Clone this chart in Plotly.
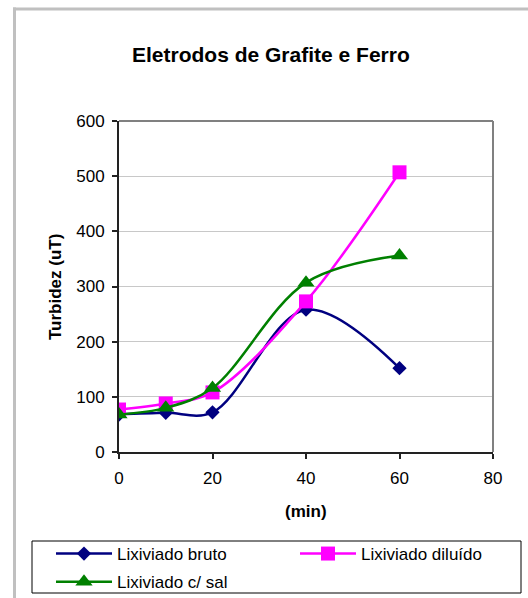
import plotly.graph_objects as go

# ---- data ----
minutes = [0, 10, 20, 40, 60]
bruto = [68, 71, 72, 258, 152]
diluido = [77, 88, 108, 273, 507]
com_sal = [68, 80, 116, 307, 356]

title_text = "Eletrodos de Grafite e Ferro"
x_title = "(min)"
y_title = "Turbidez (uT)"
series_names = ["Lixiviado bruto", "Lixiviado diluído", "Lixiviado c/ sal"]
y_ticks = [0, 100, 200, 300, 400, 500, 600]
x_ticks = [0, 20, 40, 60, 80]

# ---- layout geometry (pixels) ----
W, H = 528, 598
L, R, T, B = 119, 35, 121, 146
PW = W - L - R
PH = H - T - B


def px2x(px):
    return (px - L) / PW


def py2y(py):
    return (H - B - py) / PH


FONT = "Liberation Sans, Arial, sans-serif"

fig = go.Figure()
fig.add_trace(go.Scatter(
    x=minutes, y=bruto, name=series_names[0], mode="lines+markers",
    line=dict(color="#000080", width=2.5, shape="spline", smoothing=1),
    marker=dict(symbol="diamond", size=11, color="#000080"),
    legend="legend", legendgroup="a",
))
fig.add_trace(go.Scatter(
    x=minutes, y=diluido, name=series_names[1], mode="lines+markers",
    line=dict(color="#FF00FF", width=2.5, shape="spline", smoothing=1),
    marker=dict(symbol="square", size=14, color="#FF00FF"),
    legend="legend2", legendgroup="b",
))
fig.add_trace(go.Scatter(
    x=minutes, y=com_sal, name=series_names[2], mode="lines+markers",
    line=dict(color="#008000", width=2.5, shape="spline", smoothing=1),
    marker=dict(symbol="triangle-up", size=15, color="#008000"),
    legend="legend", legendgroup="c",
))

shapes = [
    # page border (left and top)
    dict(type="line", xref="paper", yref="paper", x0=px2x(14.5), x1=px2x(14.5),
         y0=py2y(7.5), y1=py2y(600), line=dict(color="#c0c0c0", width=3), layer="below"),
    dict(type="line", xref="paper", yref="paper", x0=px2x(13), x1=px2x(530),
         y0=py2y(9), y1=py2y(9), line=dict(color="#c0c0c0", width=3), layer="below"),
    # plot area border top/right
    dict(type="line", xref="paper", yref="paper", x0=0, x1=1, y0=1, y1=1,
         line=dict(color="#808080", width=2)),
    dict(type="line", xref="paper", yref="paper", x0=1, x1=1, y0=0, y1=1,
         line=dict(color="#808080", width=2)),
    # legend box
    dict(type="rect", xref="paper", yref="paper", x0=px2x(32), x1=px2x(521),
         y0=py2y(593), y1=py2y(541), line=dict(color="#000000", width=1),
         fillcolor="rgba(0,0,0,0)"),
]

annotations = [
    dict(text=f"<b>{title_text}</b>", xref="paper", yref="paper", x=px2x(271), y=py2y(54),
         xanchor="center", yanchor="middle", showarrow=False,
         font=dict(family=FONT, size=21, color="#000000")),
    dict(text=f"<b>{x_title}</b>", xref="paper", yref="paper", x=px2x(306), y=py2y(511),
         xanchor="center", yanchor="middle", showarrow=False,
         font=dict(family=FONT, size=17, color="#000000")),
    dict(text=f"<b>{y_title}</b>", xref="paper", yref="paper", x=px2x(55), y=py2y(287),
         xanchor="center", yanchor="middle", showarrow=False, textangle=-90,
         font=dict(family=FONT, size=17, color="#000000")),
]

legend_common = dict(
    orientation="v", xanchor="left", yanchor="top",
    itemwidth=56, bgcolor="rgba(0,0,0,0)", borderwidth=0,
    font=dict(family=FONT, size=17, color="#000000"),
    tracegroupgap=3, itemclick=False, itemdoubleclick=False,
)

fig.update_layout(
    width=W, height=H,
    margin=dict(l=L, r=R, t=T, b=B, autoexpand=False),
    paper_bgcolor="#ffffff", plot_bgcolor="#ffffff",
    font=dict(family=FONT, size=17, color="#000000"),
    showlegend=True,
    legend=dict(x=px2x(51), y=py2y(536), **legend_common),
    legend2=dict(x=px2x(295), y=py2y(536), **legend_common),
    shapes=shapes,
    annotations=annotations,
    xaxis=dict(
        range=[0, 80], tickvals=x_ticks, ticktext=[str(v) for v in x_ticks],
        showgrid=False, zeroline=False,
        showline=True, linecolor="#222222", linewidth=2,
        ticks="outside", ticklen=5, tickcolor="#222222", tickwidth=1.5,
        ticklabelstandoff=5,
        tickfont=dict(family=FONT, size=17, color="#000000"),
        fixedrange=True,
    ),
    yaxis=dict(
        range=[0, 600], tickvals=y_ticks, ticktext=[str(v) for v in y_ticks],
        showgrid=True, gridcolor="#c8c8c8", gridwidth=1, zeroline=False,
        showline=True, linecolor="#222222", linewidth=2,
        ticks="outside", ticklen=5, tickcolor="#222222", tickwidth=1.5,
        ticklabelstandoff=4,
        tickfont=dict(family=FONT, size=17, color="#000000"),
        fixedrange=True,
    ),
)

fig.write_html("out.html")
